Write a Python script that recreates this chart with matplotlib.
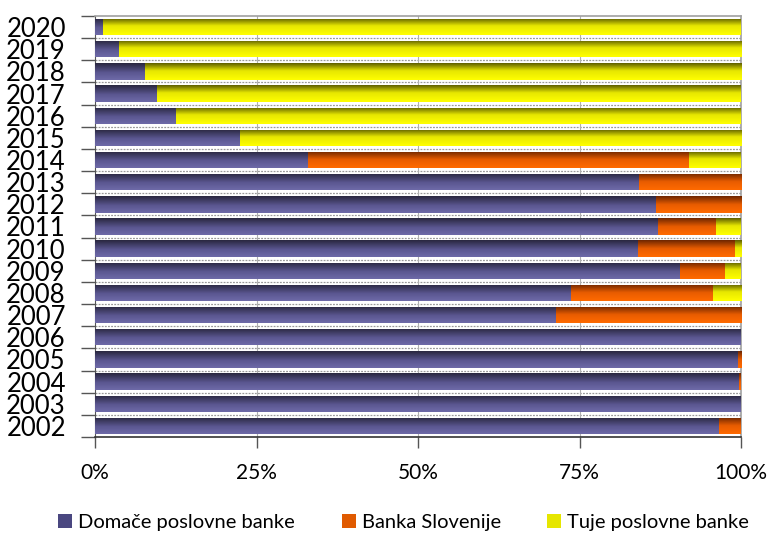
import matplotlib
matplotlib.use("Agg")
import matplotlib.pyplot as plt
import numpy as np
from matplotlib.colors import LinearSegmentedColormap

years = ["2002", "2003", "2004", "2005", "2006", "2007", "2008", "2009", "2010", "2011",
         "2012", "2013", "2014", "2015", "2016", "2017", "2018", "2019", "2020"]
domace = [96.6, 100.0, 99.7, 99.5, 100.0, 71.3, 73.7, 90.6, 84.1, 87.2,
          86.8, 84.2, 33.0, 22.4, 12.6, 9.6, 7.7, 3.7, 1.3]
banka_slo = [3.4, 0.0, 0.3, 0.5, 0.0, 28.7, 21.9, 7.0, 14.9, 9.0,
             13.2, 15.8, 59.0, 0.0, 0.0, 0.0, 0.0, 0.0, 0.0]
tuje = [0.0, 0.0, 0.0, 0.0, 0.0, 0.0, 4.4, 2.4, 1.0, 3.8,
        0.0, 0.0, 8.0, 77.6, 87.4, 90.4, 92.3, 96.3, 98.7]
series_names = ["Domače poslovne banke", "Banka Slovenije", "Tuje poslovne banke"]
xticks = [0, 25, 50, 75, 100]
xtick_labels = ["0%", "25%", "50%", "75%", "100%"]

base_colors = ["#4a4780", "#e05a00", "#e6e600"]
grads = [[(0, "#29273f"), (0.55, "#5a5690"), (1, "#6e6aa8")],
         [(0, "#6e2600"), (0.5, "#e85c00"), (1, "#ff6a00")],
         [(0, "#5e5e00"), (0.45, "#e6e600"), (1, "#ffff00")]]

plt.rcParams['font.family'] = ['Lato', 'DejaVu Sans']

fig = plt.figure(figsize=(7.69, 5.37), dpi=100)
ax = fig.add_axes([95/769, 1-437/537, (741-95)/769, (437-16)/537])

y = np.arange(len(years))
h = 0.74
left = np.zeros(len(years))
grad = np.linspace(0, 1, 64).reshape(-1, 1)
for vals, name, bc, stops in zip([domace, banka_slo, tuje], series_names, base_colors, grads):
    vals = np.array(vals)
    bars = ax.barh(y, vals, left=left, height=h, color=bc, label=name, zorder=2, linewidth=0)
    cmap = LinearSegmentedColormap.from_list(name, stops)
    for b, v, l, yi in zip(bars, vals, left, y):
        if v <= 0:
            continue
        im = ax.imshow(grad, cmap=cmap, aspect='auto', origin='lower',
                       extent=(l, l + v, yi + h/2, yi - h/2), zorder=3,
                       interpolation='bilinear')
        im.set_clip_path(b)
    left = left + vals

ax.set_xlim(0, 100)
ax.set_ylim(-0.5, len(years) - 0.5)

# gridlines
for b in np.arange(-0.5, len(years), 1.0)[1:-1]:
    ax.axhline(b, color="#9a9a9a", lw=0.9, ls=(0, (1.5, 1.0)), zorder=1)
for xv in xticks[1:-1]:
    ax.axvline(xv, color="#b0b0b0", lw=0.8, zorder=1)

ax.set_yticks(y)
ax.set_yticklabels(years, fontsize=18.5)
ax.set_yticks(np.arange(-0.5, len(years), 1.0), minor=True)
ax.tick_params(axis='y', which='major', length=0, pad=21)
ax.tick_params(axis='y', which='minor', length=10, width=1, color="#555555")

ax.set_xticks(xticks)
ax.set_xticklabels(xtick_labels, fontsize=15)
ax.tick_params(axis='x', length=8, width=1, color="#555555", pad=11)

for s in ['top', 'right']:
    ax.spines[s].set_color("#a0a0a0")
    ax.spines[s].set_linewidth(1.2)
ax.spines['left'].set_color("#555555")
ax.spines['bottom'].set_color("#333333")
ax.spines['bottom'].set_linewidth(1.2)

handles, labels = ax.get_legend_handles_labels()
leg = fig.legend(handles, labels, loc='lower center', bbox_to_anchor=(0.525, -0.022), ncol=3,
                 frameon=False, fontsize=14.5, handlelength=0.7, handleheight=0.7,
                 handletextpad=0.3, columnspacing=2.3)

fig.savefig("out.png", dpi=100)
